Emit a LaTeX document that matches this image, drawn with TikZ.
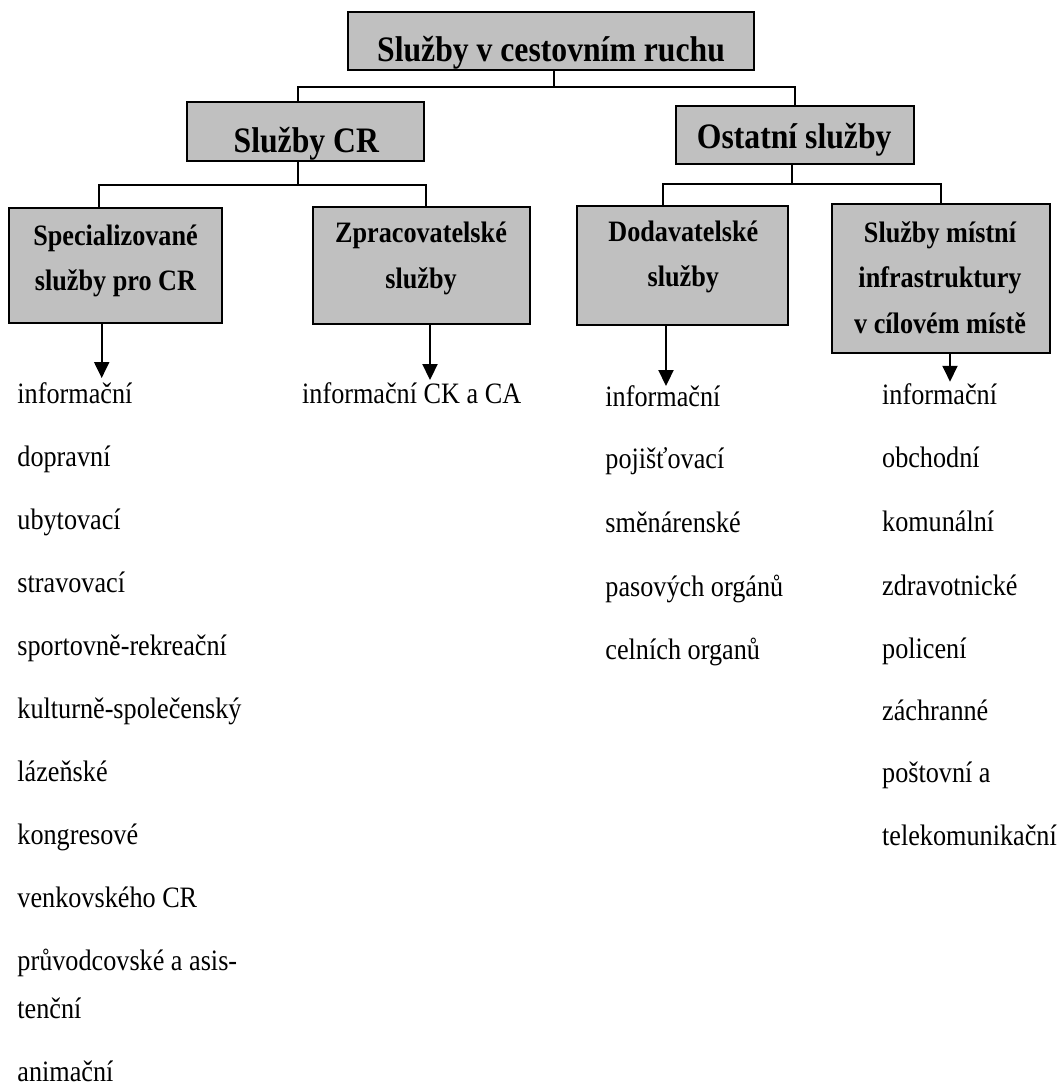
\documentclass[tikz,border=0pt]{standalone}
\usepackage{fontspec}
\setmainfont{Liberation Serif}[FakeStretch=0.885]
\usepackage{tikz}
\usetikzlibrary{arrows.meta}
\definecolor{boxgray}{RGB}{192,192,192}
\tikzset{
	box/.style={shape=rectangle, draw=black, line width=1.1pt, fill=boxgray, inner sep=0},
	boxtext/.style={font=\bfseries\fontsize{13.56}{20.8}\selectfont, align=center, inner sep=0, anchor=base},
	item/.style={font=\fontsize{13.56}{16}\selectfont, inner sep=0, anchor=base west},
	wire/.style={line width=0.8pt},
	pointer/.style={line width=0.8pt, -{Triangle[width=6.9pt, length=7.3pt]}}
}

\begin{document}
\begin{tikzpicture}[x=0.458pt, y=-0.458pt]
	\useasboundingbox (0,0) rectangle (1062,1086);
	% Boxes (text nodes sit on the baseline of their last line):
	\node[box, minimum width=185.9pt, minimum height=26.6pt] (top) at (551,41) {} node[boxtext, font=\bfseries\fontsize{16.4}{20}\selectfont] (topT) at (551,62) {Služby v cestovním ruchu};
	\node[box, minimum width=108.5pt, minimum height=27pt] (cr) at (305.5,131.5) {} node[boxtext, font=\bfseries\fontsize{16.4}{20}\selectfont] (crT) at (306.3,153) {Služby CR};
	\node[box, minimum width=109pt, minimum height=26.6pt] (ost) at (795,135) {} node[boxtext, font=\bfseries\fontsize{16.4}{20}\selectfont] (ostT) at (794.2,148.3) {Ostatní služby};
	\node[box, minimum width=97.6pt, minimum height=52.7pt] (spec) at (115.5,265.5) {} node[boxtext] (specT) at (115.5,290.7) {Specializované\\služby pro CR};
	\node[box, minimum width=99.4pt, minimum height=53.6pt] (zprac) at (421.5,265.5) {} node[boxtext] (zpracT) at (421,288.3) {Zpracovatelské\\služby};
	\node[box, minimum width=96.6pt, minimum height=54.5pt] (dod) at (682.5,265.5) {} node[boxtext] (dodT) at (683.3,286.7) {Dodavatelské\\služby};
	\node[box, minimum width=99.8pt, minimum height=68.2pt] (mist) at (941,278.5) {} node[boxtext] (mistT) at (940,333.3) {Služby místní\\infrastruktury\\v cílovém místě};
	% Tree lines:
	\draw[wire] ([xshift=1.4pt]top.south) -- ++(0,16) coordinate (jtop);
	\draw[wire] ([xshift=-3.4pt]cr.north) |- (jtop) -| (ost.north);
	\draw[wire] ([xshift=-3.4pt]cr.south) -- ++(0,23) coordinate (jcr);
	\draw[wire] ([xshift=-7.6pt]spec.north) |- (jcr) -| ([xshift=2.1pt]zprac.north);
	\draw[wire] ([xshift=-1.4pt]ost.south) -- ++(0,19) coordinate (jost);
	\draw[wire] ([xshift=-8.9pt]dod.north) |- (jost) -| (mist.north);
	% Arrows:
	\coordinate (tipspec) at (101.7,378);
	\coordinate (tipzprac) at (430,380);
	\coordinate (tipdod) at (666,386);
	\coordinate (tipmist) at (950,381.7);
	\draw[pointer] (spec.south -| tipspec) -- (tipspec);
	\draw[pointer] (zprac.south -| tipzprac) -- (tipzprac);
	\draw[pointer] (dod.south -| tipdod) -- (tipdod);
	\draw[pointer] (mist.south -| tipmist) -- (tipmist);
	% Lists:
	\node[item] (s1) at (17,403) {informační};
	\node[item] (s2) at (17,466.1) {dopravní};
	\node[item] (s3) at (17,529.2) {ubytovací};
	\node[item] (s4) at (17,592.3) {stravovací};
	\node[item] (s5) at (17,655.4) {sportovně-rekreační};
	\node[item] (s6) at (17,718.5) {kulturně-společenský};
	\node[item] (s7) at (17,781.6) {lázeňské};
	\node[item] (s8) at (17,844.7) {kongresové};
	\node[item] (s9) at (17,907.8) {venkovského CR};
	\node[item] (s10) at (17,970.9) {průvodcovské a asis-};
	\node[item] (s10b) at (17,1018) {tenční};
	\node[item] (s11) at (17,1081) {animační};
	\node[item] (z1) at (301.7,403) {informační CK a CA};
	\node[item] (d1) at (605,406.7) {informační};
	\node[item] (d2) at (605,468.3) {pojišťovací};
	\node[item] (d3) at (605,532.7) {směnárenské};
	\node[item] (d4) at (605,596) {pasových orgánů};
	\node[item] (d5) at (605,659.3) {celních organů};
	\node[item] (m1) at (881.7,404) {informační};
	\node[item] (m2) at (881.7,467.7) {obchodní};
	\node[item] (m3) at (881.7,531.7) {komunální};
	\node[item] (m4) at (881.7,595) {zdravotnické};
	\node[item] (m5) at (881.7,658.3) {policení};
	\node[item] (m6) at (881.7,720.7) {záchranné};
	\node[item] (m7) at (881.7,782.7) {poštovní a};
	\node[item] (m8) at (881.7,845.5) {telekomunikační};
\end{tikzpicture}
\end{document}
